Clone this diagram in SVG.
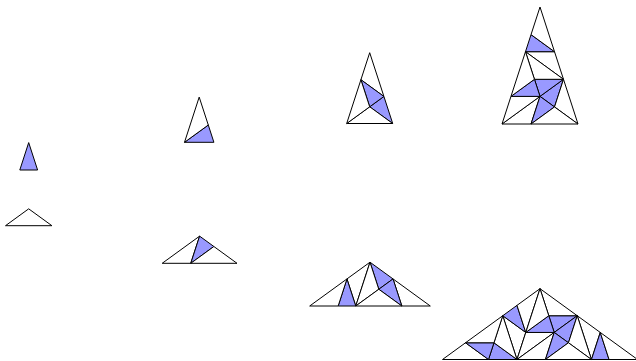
<svg xmlns="http://www.w3.org/2000/svg" width="636" height="361" viewBox="0 0 636 361">
<style>
polygon{stroke:#000;stroke-width:1;stroke-linejoin:miter}
.b{fill:#9999ff}
.w{fill:#fff}
</style>
<rect width="636" height="361" fill="#fff"/>
<g id="acute0">
<polygon class="b" points="28.7,142.6 19.8,170 37.6,170"/>
</g>
<g id="obtuse0">
<polygon class="w" points="28.7,208.84 5.5,225.7 51.9,225.7"/>
</g>
<g id="acute1">
<polygon class="b" points="184.5,142.3 213.9,142.3 208.285,125.03"/>
<polygon class="w" points="208.285,125.03 199.2,97.1 184.5,142.3"/>
</g>
<g id="obtuse1">
<polygon class="w" points="190.771,263.3 199.6,236.13 162.2,263.3"/>
<polygon class="b" points="190.771,263.3 199.6,236.13 213.886,246.508"/>
<polygon class="w" points="213.886,246.508 237,263.3 190.771,263.3"/>
</g>
<g id="acute2">
<polygon class="b" points="392.7,123.5 383.915,96.457 369.7,106.786"/>
<polygon class="w" points="369.7,106.786 346.7,123.5 392.7,123.5"/>
<polygon class="w" points="360.915,79.743 383.915,96.457 369.7,52.7"/>
<polygon class="b" points="360.915,79.743 383.915,96.457 369.7,106.786"/>
<polygon class="w" points="369.7,106.786 346.7,123.5 360.915,79.743"/>
</g>
<g id="obtuse2">
<polygon class="w" points="346.967,278.924 355.765,306 370,262.19"/>
<polygon class="b" points="346.967,278.924 355.765,306 338.17,306"/>
<polygon class="w" points="338.17,306 309.7,306 346.967,278.924"/>
<polygon class="b" points="370,262.19 393.033,278.924 378.798,289.266"/>
<polygon class="w" points="378.798,289.266 355.765,306 370,262.19"/>
<polygon class="w" points="401.83,306 393.033,278.924 430.3,306"/>
<polygon class="b" points="401.83,306 393.033,278.924 378.798,289.266"/>
<polygon class="w" points="378.798,289.266 355.765,306 401.83,306"/>
</g>
<g id="acute3">
<polygon class="b" points="563.485,79.31 540,96.38 554.515,106.93"/>
<polygon class="w" points="554.515,106.93 578,124 563.485,79.31"/>
<polygon class="w" points="531.03,124 540,96.38 502,124"/>
<polygon class="b" points="531.03,124 540,96.38 554.515,106.93"/>
<polygon class="w" points="554.515,106.93 578,124 531.03,124"/>
<polygon class="w" points="554.515,51.69 525.485,51.69 563.485,79.31"/>
<polygon class="b" points="554.515,51.69 525.485,51.69 531.03,34.62"/>
<polygon class="w" points="531.03,34.62 540,7 554.515,51.69"/>
<polygon class="b" points="563.485,79.31 540,96.38 534.455,79.31"/>
<polygon class="w" points="534.455,79.31 525.485,51.69 563.485,79.31"/>
<polygon class="w" points="510.97,96.38 540,96.38 502,124"/>
<polygon class="b" points="510.97,96.38 540,96.38 534.455,79.31"/>
<polygon class="w" points="534.455,79.31 525.485,51.69 510.97,96.38"/>
</g>
<g id="obtuse3">
<polygon class="w" points="525.775,332.44 502.758,315.72 516.983,359.5"/>
<polygon class="b" points="525.775,332.44 502.758,315.72 516.983,305.38"/>
<polygon class="w" points="516.983,305.38 540,288.66 525.775,332.44"/>
<polygon class="b" points="516.983,359.5 488.533,359.5 493.966,342.78"/>
<polygon class="w" points="493.966,342.78 502.758,315.72 516.983,359.5"/>
<polygon class="w" points="465.516,342.78 488.533,359.5 442.5,359.5"/>
<polygon class="b" points="465.516,342.78 488.533,359.5 493.966,342.78"/>
<polygon class="w" points="493.966,342.78 502.758,315.72 465.516,342.78"/>
<polygon class="b" points="577.242,315.72 554.225,332.44 548.792,315.72"/>
<polygon class="w" points="548.792,315.72 540,288.66 577.242,315.72"/>
<polygon class="w" points="525.775,332.44 554.225,332.44 516.983,359.5"/>
<polygon class="b" points="525.775,332.44 554.225,332.44 548.792,315.72"/>
<polygon class="w" points="548.792,315.72 540,288.66 525.775,332.44"/>
<polygon class="w" points="600.258,332.44 591.467,359.5 577.242,315.72"/>
<polygon class="b" points="600.258,332.44 591.467,359.5 609.05,359.5"/>
<polygon class="w" points="609.05,359.5 637.5,359.5 600.258,332.44"/>
<polygon class="b" points="577.242,315.72 554.225,332.44 568.45,342.78"/>
<polygon class="w" points="568.45,342.78 591.467,359.5 577.242,315.72"/>
<polygon class="w" points="545.433,359.5 554.225,332.44 516.983,359.5"/>
<polygon class="b" points="545.433,359.5 554.225,332.44 568.45,342.78"/>
<polygon class="w" points="568.45,342.78 591.467,359.5 545.433,359.5"/>
</g>
</svg>
